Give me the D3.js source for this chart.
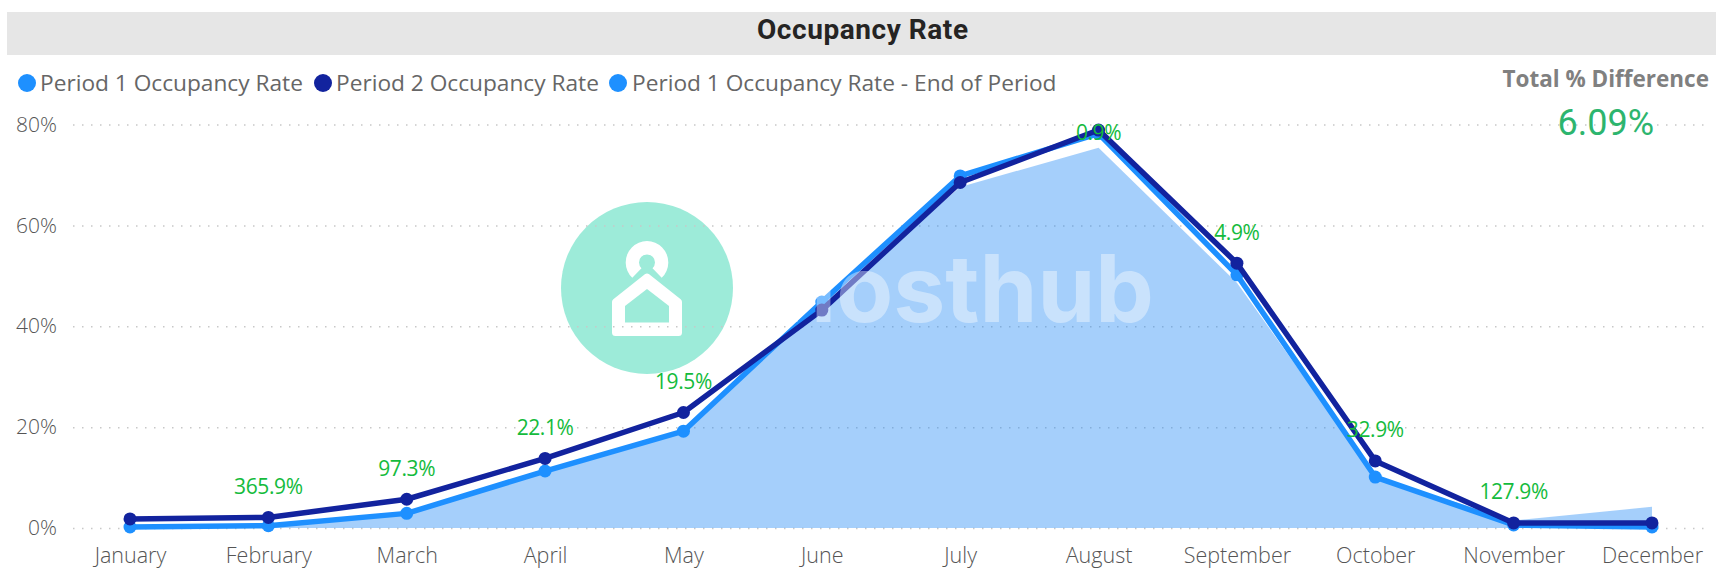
<!DOCTYPE html>
<html>
<head>
<meta charset="utf-8">
<script src="https://cdn.jsdelivr.net/npm/d3@7"></script>
<style>
  html, body { margin: 0; padding: 0; background: #fff; }
  svg { display: block; }
  text { font-family: "Open Sans", sans-serif; }
</style>
</head>
<body>
<svg></svg>
<script>
var months = ["January", "February", "March", "April", "May", "June", "July", "August", "September", "October", "November", "December"];
var period1 = [0.2, 0.45, 2.9, 11.3, 19.2, 44.8, 69.8, 78.2, 50.2, 10.1, 0.6, 0.2];
var period2 = [1.8, 2.1, 5.7, 13.8, 22.9, 43.2, 68.5, 78.9, 52.5, 13.3, 1.0, 1.0];
var endOfPeriod = [0.2, 0.4, 2.9, 11.3, 19.2, 44.2, 67.6, 75.4, 48.6, 10.1, 1.5, 4.2];
var diffLabels = [null, "365.9%", "97.3%", "22.1%", "19.5%", null, null, "0.9%", "4.9%", "32.9%", "127.9%", null];
var yTicks = [0, 20, 40, 60, 80];
var legendItems = ["Period 1 Occupancy Rate", "Period 2 Occupancy Rate", "Period 1 Occupancy Rate - End of Period"];

var width = 1716;
var height = 577;
var blue = "#1e90ff";
var navy = "#12239e";
var green = "#14bb3c";
var mint = "#9debd9";

var svg = d3.select("svg")
            .attr("width", width)
            .attr("height", height);

var xScale = d3.scalePoint()
               .domain(months)
               .range([130, 1652]);

var yScale = d3.scaleLinear()
               .domain([0, 80])
               .range([528, 124.5]);

// title bar
svg.append("rect")
  .attr("x", 7)
  .attr("y", 12)
  .attr("width", width - 7)
  .attr("height", 43)
  .attr("fill", "#e6e6e6");

svg.append("text")
  .attr("x", 757)
  .attr("y", 38.5)
  .attr("textLength", 211)
  .style("font-family", "Roboto")
  .style("font-weight", 700)
  .style("font-size", "28px")
  .attr("fill", "#252423")
  .text("Occupancy Rate");

// legend
var legendX = [[27, 40], [323, 336], [618, 632]];
var legendColors = [blue, navy, blue];

legendItems.forEach(function(d, i) {
  svg.append("circle")
    .attr("cx", legendX[i][0])
    .attr("cy", 83)
    .attr("r", 9)
    .attr("fill", legendColors[i]);
  svg.append("text")
    .attr("x", legendX[i][1])
    .attr("y", 91)
    .style("font-size", "22.7px")
    .attr("fill", "#666")
    .text(d);
});

// logo sits under the grid
svg.append("circle")
  .attr("cx", 647)
  .attr("cy", 288)
  .attr("r", 86)
  .attr("fill", mint);

var logo = svg.append("g")
  .attr("transform", "translate(647,288)");

logo.append("path")
  .attr("transform", "translate(0,-25.6)")
  .attr("d", d3.arc()({ innerRadius: 8, outerRadius: 21.3, startAngle: -2.38, endAngle: 2.38 }))
  .attr("fill", "#fff");

logo.append("polygon")
  .attr("points", "0,-11 31.5,14 31.5,44.5 -31.5,44.5 -31.5,14")
  .attr("fill", "#fff")
  .attr("stroke", "#fff")
  .attr("stroke-width", 7)
  .attr("stroke-linejoin", "round");

logo.append("polygon")
  .attr("points", "0,1 22,18 22,34.5 -22,34.5 -22,18")
  .attr("fill", mint);

// axes
var yAxis = d3.axisLeft(yScale)
              .tickValues(yTicks)
              .tickFormat(function(d) { return d + "%"; })
              .tickSize(-(1705 - 73))
              .tickPadding(16);

var yG = svg.append("g")
  .attr("transform", "translate(73,0)")
  .call(yAxis);

yG.select(".domain").remove();
yG.selectAll("line")
  .attr("stroke", "#c8c8c8")
  .attr("stroke-width", 1.5)
  .attr("stroke-dasharray", "1.5 7.5");
yG.selectAll("text")
  .style("font-size", "21px")
  .style("font-weight", 300)
  .attr("fill", "#555");

var xAxis = d3.axisBottom(xScale)
              .tickSize(0)
              .tickPadding(0);

var xG = svg.append("g")
  .attr("transform", "translate(0,548)")
  .call(xAxis);

xG.select(".domain").remove();
xG.selectAll("text")
  .style("font-size", "21.5px")
  .style("font-weight", 300)
  .attr("fill", "#555");

// end of period area
var area = d3.area()
             .x(function(d, i) { return xScale(months[i]); })
             .y0(yScale(0))
             .y1(function(d) { return yScale(d); });

svg.append("path")
  .datum(endOfPeriod)
  .attr("d", area)
  .attr("fill", "#1f88f5")
  .attr("fill-opacity", 0.4);

// the two lines
var line = d3.line()
             .x(function(d, i) { return xScale(months[i]); })
             .y(function(d) { return yScale(d); });

[[period1, blue], [period2, navy]].forEach(function(s) {
  svg.append("path")
    .datum(s[0])
    .attr("d", line)
    .attr("fill", "none")
    .attr("stroke", s[1])
    .attr("stroke-width", 5.5)
    .attr("stroke-linejoin", "round");

  svg.selectAll(null)
    .data(s[0])
    .enter()
    .append("circle")
    .attr("cx", function(d, i) { return xScale(months[i]); })
    .attr("cy", function(d) { return yScale(d); })
    .attr("r", 6.5)
    .attr("fill", s[1]);
});

// watermark word goes over the lines
svg.append("text")
  .attr("x", 1154)
  .attr("y", 322)
  .attr("text-anchor", "end")
  .style("font-family", "Inter")
  .style("font-weight", 700)
  .style("font-size", "93px")
  .attr("fill", "#fff")
  .attr("fill-opacity", 0.4)
  .text("hosthub");

// difference labels
svg.selectAll(null)
  .data(diffLabels)
  .enter()
  .append("text")
  .filter(function(d) { return d !== null; })
  .attr("x", function(d) { return xScale(months[diffLabels.indexOf(d)]); })
  .attr("y", function(d) { return Math.max(yScale(period2[diffLabels.indexOf(d)]) - 31, 132) + 7.5; })
  .attr("text-anchor", "middle")
  .style("font-size", "21px")
  .style("font-weight", 400)
  .style("letter-spacing", "-0.4px")
  .attr("fill", green)
  .text(function(d) { return d; });

// total card
svg.append("text")
  .attr("x", 1709)
  .attr("y", 87)
  .attr("text-anchor", "end")
  .style("font-size", "22.5px")
  .style("font-weight", 700)
  .attr("fill", "#808080")
  .text("Total % Difference");

svg.append("text")
  .attr("x", 1654)
  .attr("y", 135)
  .attr("text-anchor", "end")
  .style("font-family", "Roboto")
  .style("font-size", "36px")
  .attr("fill", "#2db56e")
  .text("6.09%");
</script>
</body>
</html>
